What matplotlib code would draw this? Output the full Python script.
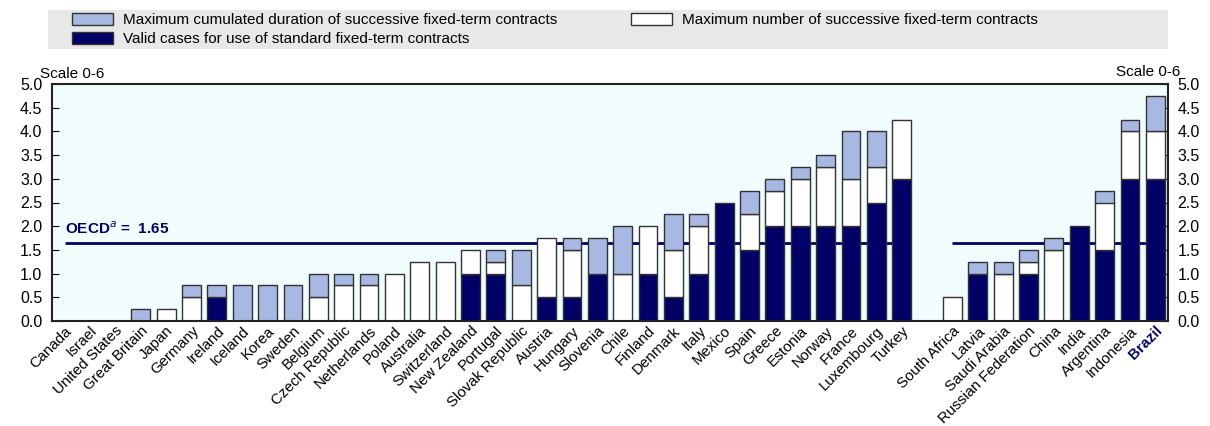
import numpy as np
import matplotlib.pyplot as plt
from matplotlib.patches import Patch, Rectangle

plt.rcParams['font.family'] = ['Liberation Sans', 'DejaVu Sans']

countries = ['Canada', 'Israel', 'United States', 'Great Britain', 'Japan', 'Germany',
             'Ireland', 'Iceland', 'Korea', 'Sweden', 'Belgium', 'Czech Republic',
             'Netherlands', 'Poland', 'Australia', 'Switzerland', 'New Zealand',
             'Portugal', 'Slovak Republic', 'Austria', 'Hungary', 'Slovenia', 'Chile',
             'Finland', 'Denmark', 'Italy', 'Mexico', 'Spain', 'Greece', 'Estonia',
             'Norway', 'France', 'Luxembourg', 'Turkey', '',
             'South Africa', 'Latvia', 'Saudi Arabia', 'Russian Federation', 'China',
             'India', 'Argentina', 'Indonesia', 'Brazil']

# valid cases for use of standard fixed-term contracts
valid = [0, 0, 0, 0, 0, 0, 0.5, 0, 0, 0, 0, 0, 0, 0, 0, 0, 1.0, 1.0, 0, 0.5, 0.5,
         1.0, 0, 1.0, 0.5, 1.0, 2.5, 1.5, 2.0, 2.0, 2.0, 2.0, 2.5, 3.0, 0,
         0, 1.0, 0, 1.0, 0, 2.0, 1.5, 3.0, 3.0]
# maximum number of successive fixed-term contracts
number = [0, 0, 0, 0, 0.25, 0.5, 0, 0, 0, 0, 0.5, 0.75, 0.75, 1.0, 1.25, 1.25, 0.5,
          0.25, 0.75, 1.25, 1.0, 0, 1.0, 1.0, 1.0, 1.0, 0, 0.75, 0.75, 1.0, 1.25,
          1.0, 0.75, 1.25, 0,
          0.5, 0, 1.0, 0.25, 1.5, 0, 1.0, 1.0, 1.0]
# maximum cumulated duration of successive fixed-term contracts
duration = [0, 0, 0, 0.25, 0, 0.25, 0.25, 0.75, 0.75, 0.75, 0.5, 0.25, 0.25, 0, 0, 0,
            0, 0.25, 0.75, 0, 0.25, 0.75, 1.0, 0, 0.75, 0.25, 0, 0.5, 0.25, 0.25,
            0.25, 1.0, 0.75, 0, 0,
            0, 0.25, 0.25, 0.25, 0.25, 0, 0.25, 0.25, 0.75]

oecd_avg = 1.65

dark = '#000066'
light = '#a7b8e2'
edge = '#333333'

W, H = 1210, 426
fig = plt.figure(figsize=(W / 100, H / 100), dpi=100)
ax = fig.add_axes([52 / W, 1 - 321 / H, 1116 / W, 237 / H])
ax.set_facecolor('#f0fcfd')

x = np.arange(len(countries))
valid = np.array(valid)
number = np.array(number)
duration = np.array(duration)
w = 0.74

# OECD average lines (behind the bars)
ax.hlines(oecd_avg, 0, 33, color=dark, lw=2, zorder=1)
ax.hlines(oecd_avg, 35, 43, color=dark, lw=2, zorder=1)
ax.text(0, 1.78, r'OECD$^{a}$ =  1.65', color=dark, fontweight='bold', fontsize=11,
        ha='left', va='bottom')

kw = dict(width=w, edgecolor=edge, linewidth=1.0, zorder=2)
m = valid > 0
ax.bar(x[m], valid[m], color=dark, **kw)
m = number > 0
ax.bar(x[m], number[m], bottom=valid[m], color='white', **kw)
m = duration > 0
ax.bar(x[m], duration[m], bottom=(valid + number)[m], color=light, **kw)

ax.set_xlim(-0.5, len(countries) - 0.5)
ax.set_ylim(0, 5)
yt = np.arange(0, 5.01, 0.5)
ax.set_yticks(yt)
ax.set_yticklabels([f'{v:.1f}' for v in yt])
ax.tick_params(axis='y', direction='in', length=5, right=True, labelright=True,
               labelsize=11.5, pad=7)
ax.set_xticks(x)
ax.set_xticklabels(countries, rotation=45, ha='right', rotation_mode='anchor',
                   fontsize=10.8)
ax.tick_params(axis='x', length=0, pad=2)
lbl = ax.get_xticklabels()[-1]
lbl.set_color(dark)
lbl.set_fontweight('bold')
for s in ax.spines.values():
    s.set_linewidth(1.5)
    s.set_color('#222222')

fig.text(40 / W, 1 - 74 / H, 'Scale 0-6', fontsize=11, ha='left', va='center')
fig.text(1180 / W, 1 - 72 / H, 'Scale 0-6', fontsize=11, ha='right', va='center')

# legend band
fig.patches.append(Rectangle((48 / W, 1 - 49 / H), 1120 / W, 39 / H,
                             transform=fig.transFigure, facecolor='#e8e8e8',
                             edgecolor='none', zorder=0))
leg_kw = dict(loc='upper left', frameon=False, fontsize=11, handlelength=2.7,
              handleheight=0.85, handletextpad=0.65, labelspacing=0.3, borderpad=0,
              borderaxespad=0)
fig.legend([Patch(facecolor=light, edgecolor=edge),
            Patch(facecolor=dark, edgecolor=edge)],
           ['Maximum cumulated duration of successive fixed-term contracts',
            'Valid cases for use of standard fixed-term contracts'],
           bbox_to_anchor=(72 / W, 1 - 13 / H), **leg_kw)
fig.legend([Patch(facecolor='white', edgecolor=edge)],
           ['Maximum number of successive fixed-term contracts'],
           bbox_to_anchor=(631 / W, 1 - 13 / H), **leg_kw)

fig.savefig('out.png', dpi=100)
